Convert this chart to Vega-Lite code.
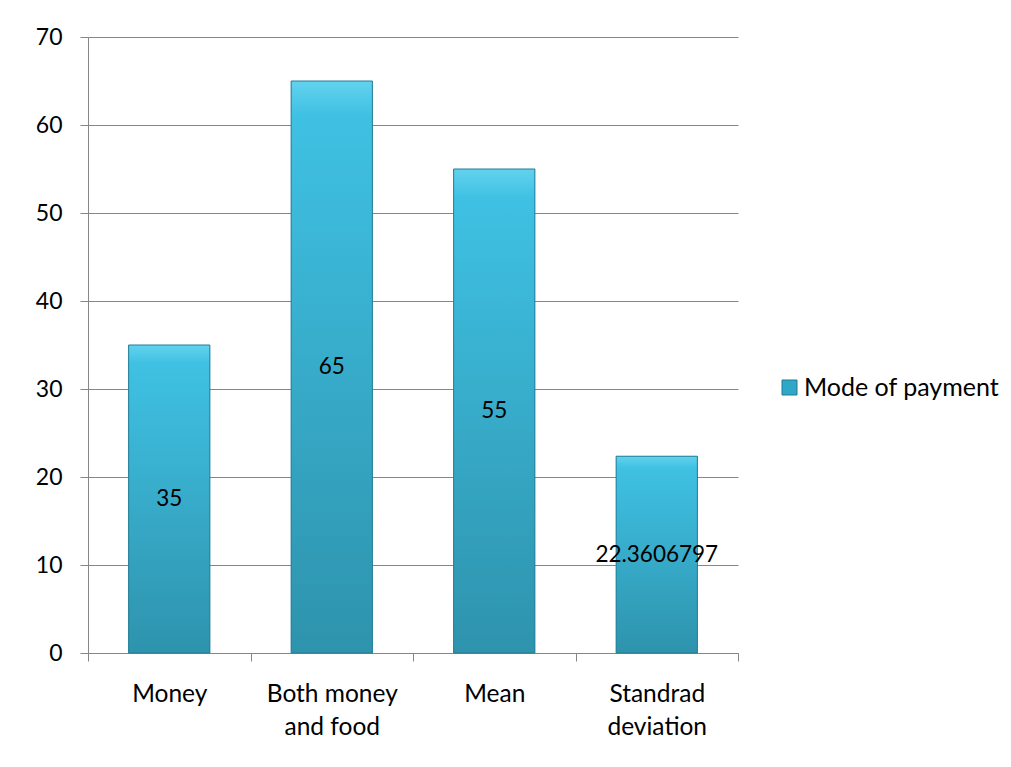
{
  "$schema": "https://vega.github.io/schema/vega-lite/v6.json",
  "autosize": "none",
  "width": 650,
  "height": 616,
  "padding": {"left": 88, "top": 37, "right": 273, "bottom": 114},
  "background": "white",
  "data": {
    "values": [
      {"category": "Money", "value": 35, "series": "Mode of payment"},
      {"category": "Both money and food", "value": 65, "series": "Mode of payment"},
      {"category": "Mean", "value": 55, "series": "Mode of payment"},
      {"category": "Standrad deviation", "value": 22.3606797, "series": "Mode of payment"}
    ]
  },
  "encoding": {
    "x": {
      "field": "category",
      "type": "nominal",
      "sort": null,
      "scale": {"paddingInner": 0, "paddingOuter": 0},
      "axis": {
        "title": null,
        "labelAngle": 0,
        "tickBand": "extent",
        "labelExpr": "datum.value == 'Both money and food' ? ['Both money', 'and food'] : datum.value == 'Standrad deviation' ? ['Standrad', 'deviation'] : datum.value",
        "labelPadding": 21,
        "labelLineHeight": 33,
        "labelFontSize": 24.5
      }
    }
  },
  "layer": [
    {
      "mark": {"type": "bar", "width": {"band": 0.5}},
      "encoding": {
        "y": {
          "field": "value",
          "type": "quantitative",
          "scale": {"domain": [0, 70], "nice": false},
          "axis": {
            "title": null,
            "values": [0, 10, 20, 30, 40, 50, 60, 70],
            "grid": true,
            "labelPadding": 18
          }
        },
        "color": {
          "field": "series",
          "type": "nominal",
          "scale": {"range": ["#2fa8c8"]},
          "legend": {
            "title": null,
            "orient": "none",
            "legendX": 689,
            "legendY": 338,
            "symbolType": "square",
            "symbolSize": 225,
            "symbolStrokeColor": "#1f7a93",
            "symbolStrokeWidth": 1,
            "labelFontSize": 25,
            "labelOffset": 2
          }
        }
      }
    },
    {
      "mark": {
        "type": "bar",
        "width": {"band": 0.5},
        "stroke": "#237d96",
        "strokeWidth": 1,
        "fill": {
          "gradient": "linear",
          "x1": 0, "y1": 0, "x2": 0, "y2": 1,
          "stops": [
            {"offset": 0, "color": "#62d2ee"},
            {"offset": 0.06, "color": "#3fc1e3"},
            {"offset": 1, "color": "#2e93ad"}
          ]
        }
      },
      "encoding": {
        "y": {"field": "value", "type": "quantitative"}
      }
    },
    {
      "transform": [{"calculate": "datum.value / 2", "as": "labelPos"}],
      "mark": {"type": "text", "color": "black", "fontSize": 22.5, "baseline": "middle"},
      "encoding": {
        "y": {"field": "labelPos", "type": "quantitative"},
        "text": {"field": "value", "type": "quantitative"}
      }
    }
  ],
  "config": {
    "font": "Lato",
    "view": {"stroke": null},
    "axis": {
      "labelFont": "Lato",
      "labelFontSize": 23,
      "labelColor": "black",
      "domainColor": "#868686",
      "tickColor": "#868686",
      "gridColor": "#868686",
      "tickSize": 8,
      "domainWidth": 1,
      "tickWidth": 1,
      "gridWidth": 1
    },
    "legend": {"labelFont": "Lato", "labelColor": "black", "labelLimit": 400}
  }
}
